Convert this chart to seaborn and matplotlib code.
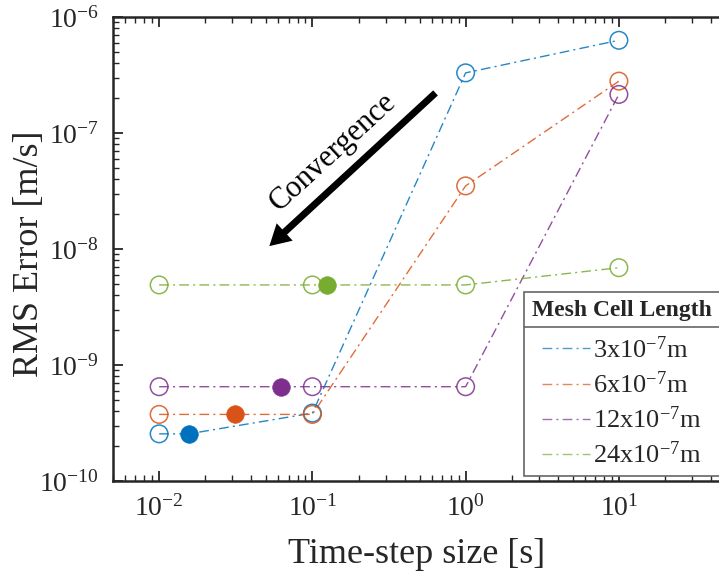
import numpy as np
import pandas as pd
import matplotlib
matplotlib.use("Agg")
import matplotlib.pyplot as plt
import seaborn as sns
from matplotlib.ticker import LogLocator, NullFormatter, FixedLocator

# ---------------- data ----------------
dt_steps = [0.01, 0.1, 1.0, 10.0]
labels = [r"3x10$^{\mathregular{-7}}$m", r"6x10$^{\mathregular{-7}}$m",
          r"12x10$^{\mathregular{-7}}$m", r"24x10$^{\mathregular{-7}}$m"]
err_3 = [2.55e-10, 3.85e-10, 3.3e-7, 6.3e-7]
err_6 = [3.75e-10, 3.75e-10, 3.5e-8, 2.8e-7]
err_12 = [6.5e-10, 6.5e-10, 6.5e-10, 2.15e-7]
err_24 = [4.9e-9, 4.9e-9, 4.9e-9, 6.9e-9]
# stable (filled) points
stable_dt = [1/64, 1/32, 1/16, 1/8]
stable_err = [2.55e-10, 3.75e-10, 6.5e-10, 4.9e-9]
colors = ["#0072BD", "#D95319", "#7E2F8E", "#77AC30"]
x_major = [1e-2, 1e-1, 1e0, 1e1]
y_major = [1e-10, 1e-9, 1e-8, 1e-7, 1e-6]

sns.set_theme(style="white")
plt.rcParams["font.family"] = ["Liberation Serif", "DejaVu Serif"]
plt.rcParams["mathtext.fontset"] = "custom"
plt.rcParams["mathtext.rm"] = "Liberation Serif"
plt.rcParams["mathtext.it"] = "Liberation Serif:italic"
plt.rcParams["mathtext.bf"] = "Liberation Serif:bold"

fig = plt.figure(figsize=(7.19, 5.78), dpi=100)
ax = fig.add_axes([113/719, 1-481/578, (726-113)/719, (481-17)/578])

series = [err_3, err_6, err_12, err_24]
handles = []
for i, errs in enumerate(series):
    xs = dt_steps + [stable_dt[i]]
    ys = errs + [stable_err[i]]
    df = pd.DataFrame({"dt": xs, "err": ys}).sort_values("dt")
    sns.lineplot(data=df, x="dt", y="err", ax=ax, color=colors[i], lw=1.0,
                 alpha=0.85, sort=True, estimator=None, label=labels[i],
                 legend=False)
    line = ax.get_lines()[-1]
    line.set_dashes([7, 3, 1.5, 3])
    handles.append(line)
    dfo = pd.DataFrame({"dt": dt_steps, "err": errs})
    sns.scatterplot(data=dfo, x="dt", y="err", ax=ax, s=160, marker="o",
                    facecolor="none", edgecolor=colors[i], linewidth=1.1,
                    alpha=0.85, zorder=3, legend=False)
    sns.scatterplot(x=[stable_dt[i]], y=[stable_err[i]], ax=ax, s=160,
                    marker="o", color=colors[i], edgecolor=colors[i],
                    linewidth=0.5, zorder=4, legend=False)

ax.set_xscale("log")
ax.set_yscale("log")
ax.set_xlim(0.005, 50)
ax.set_ylim(1e-10, 1e-6)
ax.xaxis.set_major_locator(FixedLocator(x_major))
ax.yaxis.set_major_locator(FixedLocator(y_major))
ax.xaxis.set_minor_locator(LogLocator(base=10, subs=np.arange(2, 10), numticks=20))
ax.yaxis.set_minor_locator(LogLocator(base=10, subs=np.arange(2, 10), numticks=20))
ax.xaxis.set_minor_formatter(NullFormatter())
ax.yaxis.set_minor_formatter(NullFormatter())

for sp in ax.spines.values():
    sp.set_color("#262626")
    sp.set_linewidth(1.8)
ax.tick_params(which="both", direction="in", top=True, right=False,
               bottom=True, left=True, color="#262626", labelsize=20,
               labelcolor="#262626")
ax.tick_params(which="major", length=7, width=1.3, pad=10)
ax.tick_params(which="minor", length=4, width=1.0)

ax.set_xlabel("Time-step size [s]", fontsize=26, color="#262626", va="top")
ax.set_ylabel("RMS Error [m/s]", fontsize=26, color="#262626", va="center")
ax.xaxis.set_label_coords((417-113)/613, (481-538)/464)
ax.yaxis.set_label_coords((30-113)/613, 0.49)

# convergence arrow
ax.annotate("", xy=(0.0508, 1.02e-8), xytext=(0.656, 2.3e-7),
            arrowprops=dict(arrowstyle="simple,head_length=0.75,head_width=0.85,tail_width=0.25",
                            mutation_scale=20, color="black", lw=0))
ax.text(0.137, 6.8e-8, "Convergence", rotation=42.5, rotation_mode="anchor",
        ha="center", va="center", fontsize=22, color="black")

leg = ax.legend(handles=handles, labels=labels, title="Mesh Cell Length",
                loc="upper left", bbox_to_anchor=(524/719, 1-292/578),
                bbox_transform=fig.transFigure, fontsize=19,
                title_fontproperties={"weight": "bold", "size": 17},
                frameon=True, fancybox=False, framealpha=1,
                edgecolor="#666666", handlelength=1.8, handletextpad=0.12,
                labelspacing=0.33, borderpad=0.3, borderaxespad=0)
leg._legend_box.sep = 11
leg.get_frame().set_linewidth(1.2)
leg.set_zorder(10)
for lh in leg.get_lines():
    lh.set_alpha(0.7)

fig.add_artist(plt.Line2D([524/719, 1.0], [1-327/578, 1-327/578],
                          transform=fig.transFigure, color="#666666", lw=1.2,
                          zorder=11))

fig.savefig("out.png", dpi=100)
